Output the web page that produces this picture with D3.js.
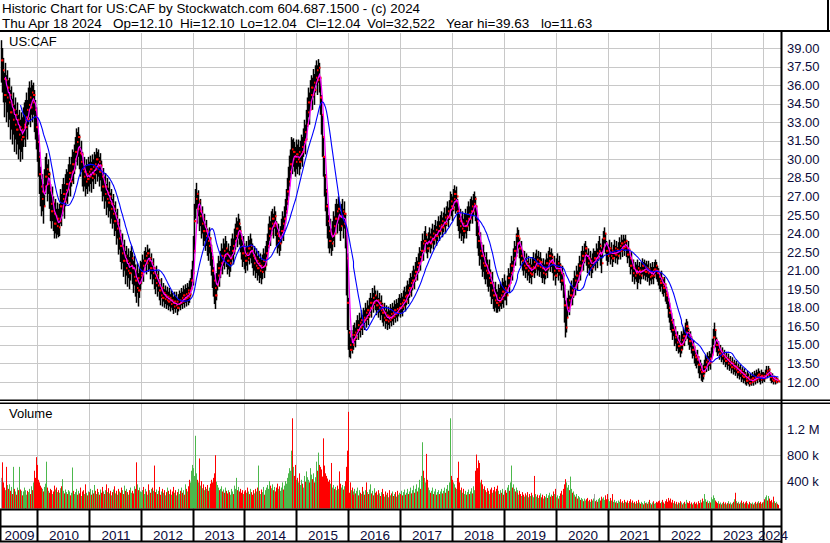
<!DOCTYPE html>
<html><head><meta charset="utf-8">
<script src="https://cdn.jsdelivr.net/npm/d3@7"></script>
<style>
body{margin:0;background:#fff}
svg{display:block}
text{font-family:"Liberation Sans",Arial,sans-serif}
</style>
</head><body>
<svg id="c" width="830" height="543"></svg>
<script>
// ---------- DATA (weekly bars) ----------
const years = [2009,2010,2011,2012,2013,2014,2015,2016,2017,2018,2019,2020,2021,2022,2023,2024];
const yearLabels = ["2009","2010","2011","2012","2013","2014","2015","2016","2017","2018","2019","2020","2021","2022","2023","2024"];

const closes = [
[38.0,37.2,36.5,35.2,36.4,35.0,35.8,34.6,35.2,33.8,34.4,33.2,34.0,32.8,33.6,32.4,33.2,32.0,32.6,31.6,32.4,31.8,32.8,33.2,32.6,33.4,34.0,33.2,34.4,35.0,34.2,35.4,34.6,35.2,34.0,33.4,32.6],
[31.4,30.2,28.8,27.8,26.8,27.4,26.2,27.8,28.6,29.2,28.0,28.8,27.5,26.4,25.8,26.5,25.6,24.8,25.4,24.6,25.2,24.5,25.0,26.2,25.8,26.8,27.2,26.6,27.5,28.0,27.6,28.4,28.9,28.2,29.0,29.6,29.2,30.0,30.6,31.4,30.8,31.8,30.5,29.8,30.4,29.2,28.6,29.0,28.2,28.8,28.4,29.0],
[28.6,29.2,28.5,29.4,28.8,29.6,29.2,30.0,29.4,29.8,29.0,29.5,28.6,27.8,28.2,27.2,27.8,26.8,27.3,26.5,27.0,26.0,26.4,25.6,26.0,25.0,25.4,24.4,24.8,23.6,23.9,23.0,22.4,22.8,21.8,22.2,21.2,21.8,21.0,21.6,20.8,21.4,22.0,21.2,20.5,21.0,20.2,19.6,20.4,19.4,20.0,20.6],
[20.8,21.4,21.0,21.8,22.2,21.6,22.4,21.8,22.0,21.2,21.6,20.8,21.2,20.4,20.0,20.6,19.8,20.2,19.4,19.0,19.6,18.8,19.2,18.7,19.0,18.6,18.9,18.5,18.8,18.3,18.6,18.4,18.1,18.5,18.2,18.5,18.0,18.3,18.6,18.4,18.8,18.5,19.0,18.7,19.1,18.8,19.2,18.9,19.4,19.1,19.6,20.2,20.8],
[22.6,25.0,26.8,27.2,26.0,26.6,25.4,25.8,24.8,25.2,24.2,24.6,23.8,24.2,23.4,23.0,23.6,22.6,22.0,21.0,20.2,19.6,19.0,19.8,20.6,21.2,20.8,21.6,22.2,21.8,22.6,22.2,22.8,22.4,21.8,22.2,21.6,22.0,22.6,23.0,22.6,23.4,23.8,24.4,24.0,24.8,24.2,23.6,23.0,22.4,22.8,22.2],
[21.8,22.4,22.0,22.8,22.5,23.0,22.6,22.2,21.6,22.0,21.4,21.8,21.2,21.6,21.0,21.4,20.9,21.3,21.8,21.4,22.0,22.4,23.0,23.8,24.4,24.0,24.8,25.2,24.6,25.4,24.8,24.0,23.4,23.8,23.2,23.6,24.2,24.8,24.4,25.2,25.8,26.6,27.4,28.2,29.0,29.6,30.8,30.0,30.6,30.2,29.8,30.4],
[30.0,30.6,29.8,30.4,31.0,30.6,31.4,32.2,31.6,32.8,33.8,34.6,34.0,35.2,35.8,35.2,36.2,35.6,36.6,37.2,36.4,37.4,36.6,35.0,33.6,31.8,30.2,28.6,27.4,26.2,25.0,24.2,23.4,24.0,23.2,23.8,24.6,24.0,25.2,25.8,25.2,26.0,25.4,24.6,25.4,25.8,24.8,25.6,24.2,22.0,18.4,16.0],
[15.0,14.6,15.4,15.0,15.8,15.4,16.0,15.6,16.2,16.6,16.2,16.8,16.4,17.0,16.6,17.2,17.0,17.6,17.2,17.8,17.4,18.0,18.4,18.0,18.8,18.4,19.0,18.6,18.2,18.6,18.0,18.4,17.8,18.2,17.6,17.2,17.6,17.0,17.4,16.9,17.3,17.0,17.5,17.2,17.6,17.3,17.8,17.5,17.9,17.6,18.0,18.3],
[18.0,18.4,18.1,18.6,18.9,18.5,19.0,19.4,19.1,19.6,20.0,19.7,20.2,20.6,20.3,20.9,21.3,21.0,21.6,22.1,21.8,22.6,23.2,22.6,23.4,23.9,23.2,22.8,23.3,23.7,23.2,23.6,24.0,23.5,23.9,24.3,23.8,24.2,24.6,24.2,24.7,25.0,24.5,24.9,25.3,24.8,25.4,25.8,25.3,25.9,26.6,26.2],
[26.0,26.8,27.2,26.6,27.0,25.8,25.2,24.6,25.0,24.4,24.8,24.2,24.6,25.0,24.6,25.2,25.6,25.2,25.8,26.2,25.8,26.4,26.8,26.2,25.0,24.0,23.4,22.6,23.0,22.2,21.6,22.0,21.4,21.0,21.4,20.8,20.4,20.8,20.0,19.4,19.8,19.0,18.6,19.0,18.4,18.2,18.8,18.5,19.0,18.7,19.3,19.0,19.6],
[19.4,19.0,19.8,20.4,20.0,20.8,21.4,21.0,22.0,22.6,22.2,23.2,23.8,23.2,23.6,22.8,22.2,22.6,21.8,21.4,21.8,21.2,21.6,21.0,21.4,20.8,21.2,20.7,21.3,21.7,21.2,21.6,21.9,21.4,21.8,21.3,21.7,21.2,20.8,21.2,20.7,21.1,21.6,21.2,21.8,22.2,21.7,22.1,21.6,21.0,21.4,20.6],
[21.2,21.6,21.0,21.4,20.8,20.2,20.6,19.8,18.2,16.4,17.2,18.0,18.6,18.2,19.0,19.4,19.0,19.6,20.2,19.8,20.6,20.2,20.8,21.4,21.0,21.8,22.2,21.8,22.4,22.8,22.2,21.6,22.0,21.4,21.8,21.2,21.6,22.0,22.0,21.8,22.4,22.0,22.6,23.0,22.4,21.6,22.8,23.6,24.0,23.2,22.6,22.2],
[22.4,22.8,22.2,22.6,22.0,22.4,22.8,22.3,22.7,22.2,22.6,23.0,22.6,23.2,22.8,23.3,22.9,23.4,22.8,22.3,22.7,22.0,21.4,21.8,20.8,21.2,20.6,21.0,20.8,21.2,20.7,21.0,20.6,21.0,21.4,21.0,21.3,20.9,21.2,20.8,21.1,20.5,20.9,20.6,21.0,20.6,21.1,21.4,21.0,20.8,20.5,20.2],
[20.0,20.4,19.8,19.6,19.9,19.2,19.0,18.6,18.0,17.6,17.0,16.8,16.2,16.4,15.6,15.8,15.2,15.4,14.9,15.1,14.6,15.0,15.4,15.2,15.7,15.5,16.0,16.5,16.2,15.7,15.3,15.5,15.0,14.6,14.8,14.2,14.0,13.8,14.0,13.4,13.0,13.2,12.8,12.5,12.8,13.2,13.6,13.4,13.8,13.5,13.9,13.6],
[14.2,14.8,15.6,16.2,15.4,15.0,14.6,14.8,14.3,14.5,14.1,14.3,13.9,14.1,13.7,13.9,13.5,13.8,13.4,13.6,13.2,13.5,13.1,13.3,13.0,13.2,12.8,13.0,12.7,12.9,12.5,12.7,12.4,12.6,12.3,12.1,12.4,12.2,11.9,12.2,12.0,12.3,12.1,12.4,12.2,12.5,12.3,12.6,12.4,12.2,12.5,12.3],
[12.5,12.3,12.7,12.9,12.6,13.0,12.7,12.4,12.2,12.4,12.1,12.3,12.0,12.2,12.1,12.04]
];

const highs = [
[39.63,39.0,38.2,37.0,37.8,36.8,37.2,36.4,36.6,35.6,35.9,34.9,35.4,34.4,35.0,34.0,34.6,33.6,34.0,33.2,33.8,33.4,34.2,34.6,34.2,34.8,35.4,34.8,35.8,36.3,35.8,36.4,36.0,36.2,35.6,34.8,34.2],
[33.4,32.0,30.6,29.4,28.4,28.8,28.0,29.2,30.2,30.5,29.6,30.0,29.0,28.0,27.2,27.8,27.0,26.5,26.8,26.0,26.5,26.0,26.4,27.6,27.2,28.0,28.5,28.0,28.8,29.2,29.0,29.6,30.2,29.6,30.2,30.8,30.6,31.2,31.8,32.5,32.2,32.6,32.0,31.0,31.5,30.6,29.8,30.2,29.5,30.0,29.6,30.2],
[29.8,30.3,29.8,30.4,30.0,30.6,30.4,30.9,30.6,30.8,30.2,30.5,29.9,29.0,29.3,28.6,28.9,28.0,28.5,27.7,28.2,27.3,27.6,26.8,27.2,26.3,26.6,25.7,26.0,24.9,25.2,24.3,23.7,24.0,23.1,23.5,22.6,23.0,22.3,22.8,22.1,22.6,23.0,22.5,21.8,22.2,21.5,21.0,21.6,20.8,21.2,21.8],
[21.7,22.3,21.9,22.6,22.9,22.5,23.1,22.7,22.8,22.1,22.4,21.7,22.0,21.3,20.9,21.4,20.7,21.0,20.3,19.9,20.4,19.7,20.0,19.5,19.8,19.4,19.7,19.3,19.6,19.1,19.4,19.2,18.9,19.3,19.0,19.3,18.8,19.1,19.4,19.2,19.6,19.3,19.8,19.5,19.9,19.6,20.0,19.7,20.2,19.9,20.4,21.1,21.8],
[23.8,26.4,27.6,28.1,27.3,27.5,26.5,26.8,25.9,26.2,25.2,25.6,24.8,25.1,24.4,24.0,24.5,23.7,23.1,22.2,21.3,20.7,20.2,20.8,21.6,22.2,21.8,22.6,23.2,22.8,23.6,23.2,23.8,23.4,22.8,23.2,22.6,23.0,23.6,24.0,23.6,24.4,24.8,25.3,25.0,25.6,25.2,24.6,24.0,23.4,23.8,23.2],
[22.8,23.4,23.0,23.8,23.5,24.0,23.6,23.2,22.6,23.0,22.4,22.8,22.2,22.6,22.0,22.4,21.9,22.3,22.8,22.4,23.0,23.4,24.0,24.8,25.4,25.0,25.8,26.0,25.6,26.2,25.8,25.0,24.4,24.8,24.2,24.6,25.2,25.8,25.4,26.2,26.8,27.6,28.5,29.4,30.3,30.8,31.8,31.6,31.7,31.4,31.0,31.6],
[31.2,31.6,31.0,31.5,32.0,31.8,32.5,33.2,32.8,34.0,35.0,35.8,35.4,36.4,36.8,36.6,37.3,36.9,37.6,38.0,37.6,38.1,37.8,36.6,35.2,33.6,31.8,30.2,28.8,27.6,26.4,25.5,24.6,25.2,24.4,25.0,25.8,25.4,26.4,26.8,26.4,27.0,26.6,25.8,26.4,26.8,26.0,26.6,25.6,24.4,22.4,18.8],
[16.2,15.6,16.2,15.9,16.6,16.2,16.8,16.4,17.0,17.4,17.0,17.6,17.2,17.8,17.4,18.0,17.8,18.4,18.0,18.6,18.2,18.8,19.2,18.8,19.6,19.2,19.8,19.4,19.0,19.4,18.8,19.2,18.6,19.0,18.4,18.0,18.4,17.8,18.2,17.7,18.1,17.8,18.3,18.0,18.4,18.1,18.6,18.3,18.7,18.4,18.8,19.1],
[18.8,19.2,18.9,19.4,19.7,19.3,19.8,20.2,19.9,20.4,20.8,20.5,21.0,21.4,21.1,21.7,22.1,21.8,22.4,22.9,22.6,23.4,24.0,23.5,24.2,24.6,24.0,23.6,24.1,24.5,24.0,24.4,24.8,24.3,24.7,25.1,24.6,25.0,25.4,25.0,25.5,25.8,25.3,25.7,26.1,25.6,26.2,26.6,26.1,26.7,27.4,27.2],
[27.0,27.6,27.9,27.5,27.8,26.8,26.2,25.6,26.0,25.4,25.8,25.2,25.6,26.0,25.6,26.2,26.6,26.2,26.8,27.0,26.7,27.2,27.4,27.0,26.2,25.2,24.6,23.8,24.1,23.3,22.7,23.1,22.5,22.1,22.5,21.9,21.5,21.9,21.1,20.5,20.9,20.1,19.7,20.1,19.5,19.3,19.9,19.6,20.1,19.8,20.4,20.1,20.7],
[20.2,19.8,20.6,21.2,20.8,21.6,22.2,21.8,22.8,23.4,23.0,24.0,24.5,24.0,24.3,23.6,23.0,23.4,22.6,22.2,22.6,22.0,22.4,21.8,22.2,21.6,22.0,21.5,22.1,22.5,22.0,22.4,22.7,22.2,22.6,22.1,22.5,22.0,21.6,22.0,21.5,21.9,22.4,22.0,22.6,22.9,22.5,22.8,22.4,21.8,22.2,21.4],
[22.0,22.4,21.8,22.2,21.6,21.0,21.4,20.8,19.8,18.6,18.2,18.8,19.4,19.0,19.8,20.2,19.8,20.4,21.0,20.6,21.4,21.0,21.6,22.2,21.8,22.6,23.0,22.6,23.2,23.4,23.0,22.4,22.8,22.2,22.6,22.0,22.4,22.8,22.6,22.6,23.2,22.8,23.4,23.8,23.2,22.8,23.6,24.2,24.5,24.0,23.4,23.0],
[23.1,23.5,22.9,23.3,22.7,23.1,23.5,23.0,23.4,22.9,23.3,23.7,23.3,23.9,23.5,23.9,23.6,23.9,23.5,23.0,23.4,22.7,22.1,22.5,21.6,21.9,21.3,21.7,21.5,21.9,21.4,21.7,21.3,21.7,22.0,21.7,21.9,21.6,21.8,21.5,21.8,21.2,21.6,21.3,21.7,21.3,21.7,21.9,21.7,21.4,21.2,20.9],
[20.8,21.0,20.5,20.3,20.5,19.9,19.7,19.3,18.8,18.4,17.8,17.6,17.0,17.1,16.4,16.5,16.0,16.1,15.6,15.8,15.3,15.7,16.1,15.9,16.4,16.2,16.8,17.1,16.9,16.4,16.0,16.1,15.7,15.3,15.4,14.9,14.6,14.4,14.6,14.1,13.7,13.8,13.5,13.1,13.4,13.8,14.2,14.0,14.4,14.1,14.5,14.3],
[14.8,15.5,16.3,16.8,16.2,15.6,15.2,15.3,14.9,15.0,14.6,14.8,14.4,14.6,14.2,14.4,14.0,14.3,13.9,14.1,13.7,14.0,13.6,13.8,13.5,13.7,13.3,13.5,13.2,13.4,13.0,13.2,12.9,13.1,12.8,12.6,12.9,12.7,12.4,12.7,12.5,12.8,12.6,12.9,12.7,13.0,12.8,13.1,12.9,12.7,13.0,12.8],
[12.8,12.7,13.0,13.3,13.0,13.3,13.1,12.8,12.5,12.7,12.4,12.5,12.3,12.4,12.3,12.10]
];

const lows = [
[36.2,35.4,34.6,33.4,34.6,33.0,33.8,32.6,33.2,31.6,32.4,31.2,32.0,30.6,31.6,30.4,31.2,30.0,30.8,29.8,30.6,30.0,31.0,31.6,31.0,31.8,32.4,31.6,32.8,33.4,32.6,33.6,33.0,33.6,32.2,31.6,30.8],
[29.8,28.6,27.2,26.2,25.4,25.8,24.8,26.2,27.2,27.8,26.6,27.2,26.0,25.0,24.4,25.0,24.2,23.6,24.0,23.6,23.9,23.7,23.8,24.8,24.6,25.4,25.8,25.2,26.2,26.6,26.4,27.0,27.6,27.0,27.8,28.2,28.0,28.8,29.2,29.8,29.5,30.2,29.2,28.6,29.0,27.8,27.4,27.8,27.0,27.6,27.2,27.8],
[27.4,28.0,27.3,28.2,27.6,28.4,28.0,28.8,28.2,28.6,27.8,28.3,27.4,26.6,27.0,26.0,26.6,25.5,26.1,25.3,25.8,24.8,25.2,24.4,24.8,23.8,24.2,23.1,23.6,22.3,22.7,21.7,21.1,21.6,20.5,21.0,19.9,20.6,19.7,20.4,19.5,20.2,20.8,19.9,19.2,19.8,18.9,18.4,19.2,18.1,18.8,19.4],
[19.9,20.5,20.1,20.9,21.3,20.7,21.5,20.9,21.1,20.3,20.7,19.9,20.3,19.5,19.1,19.7,18.9,19.3,18.6,18.2,18.8,18.1,18.5,18.0,18.3,17.9,18.2,17.8,18.1,17.7,18.0,17.8,17.5,17.9,17.6,17.9,17.4,17.7,18.0,17.8,18.2,17.9,18.3,18.0,18.4,18.1,18.5,18.2,18.7,18.4,18.9,19.4,20.0],
[19.8,22.4,25.2,26.0,24.8,25.4,24.2,24.6,23.6,24.0,23.0,23.4,22.6,23.0,22.2,21.8,22.4,21.4,20.6,19.6,18.9,18.3,17.9,18.6,19.4,20.0,19.7,20.4,21.0,20.7,21.4,21.1,21.7,21.3,20.7,21.1,20.5,20.9,21.5,21.9,21.5,22.3,22.7,23.3,22.9,23.6,23.1,22.5,21.9,21.3,21.7,21.1],
[20.8,21.4,21.0,21.8,21.5,22.0,21.6,21.2,20.6,21.0,20.4,20.8,20.2,20.6,20.0,20.4,19.9,20.3,20.8,20.4,21.0,21.4,22.0,22.8,23.4,23.0,23.8,24.2,23.6,24.4,23.8,23.0,22.4,22.8,22.2,22.6,23.2,23.8,23.4,24.2,24.8,25.6,26.3,27.0,27.8,28.4,29.2,28.8,29.4,29.0,28.6,29.2],
[28.8,29.4,28.7,29.2,29.8,29.4,30.2,31.0,30.4,31.6,32.6,33.4,32.8,34.0,34.6,34.0,35.0,34.4,35.4,36.0,35.2,36.2,35.4,33.6,32.0,30.2,28.6,27.0,25.8,24.6,23.6,22.8,22.4,22.8,22.2,22.6,23.4,22.9,24.0,24.6,24.0,24.8,24.2,23.4,24.2,24.6,23.6,24.4,22.8,19.0,16.2,14.6],
[14.0,13.9,14.5,14.3,15.0,14.6,15.2,14.8,15.4,15.8,15.4,16.0,15.6,16.2,15.8,16.4,16.2,16.8,16.4,17.0,16.6,17.2,17.6,17.2,18.0,17.6,18.2,17.8,17.4,17.8,17.2,17.6,17.0,17.4,16.8,16.5,16.9,16.3,16.7,16.2,16.6,16.3,16.8,16.5,16.9,16.6,17.1,16.8,17.2,16.9,17.3,17.6],
[17.2,17.6,17.3,17.8,18.1,17.7,18.2,18.6,18.3,18.8,19.2,18.9,19.4,19.8,19.5,20.1,20.5,20.2,20.8,21.3,21.0,21.8,22.4,21.8,22.6,23.1,22.4,22.0,22.5,22.9,22.4,22.8,23.2,22.7,23.1,23.5,23.0,23.4,23.8,23.4,23.9,24.2,23.7,24.1,24.5,24.0,24.6,25.0,24.5,25.1,25.8,25.4],
[25.0,25.8,26.2,25.6,25.8,24.6,24.2,23.6,24.0,23.4,23.8,23.2,23.6,24.0,23.6,24.2,24.6,24.2,24.8,25.2,24.8,25.4,25.8,25.0,23.8,22.8,22.2,21.4,21.9,21.1,20.5,20.9,20.3,19.9,20.3,19.7,19.3,19.7,18.9,18.3,18.7,17.9,17.7,18.0,17.6,17.6,17.9,17.7,18.1,17.9,18.3,18.0,18.6],
[18.6,18.2,19.0,19.6,19.2,20.0,20.6,20.2,21.2,21.8,21.4,22.4,23.0,22.4,22.8,22.0,21.4,21.8,21.0,20.6,21.0,20.4,20.8,20.2,20.6,20.0,20.4,19.9,20.5,20.9,20.4,20.8,21.1,20.6,21.0,20.5,20.9,20.4,20.0,20.4,19.9,20.3,20.8,20.4,21.0,21.4,20.9,21.3,20.8,20.2,20.6,19.8],
[20.4,20.8,20.2,20.6,20.0,19.4,19.8,18.8,16.8,15.6,16.0,17.2,17.8,17.4,18.2,18.6,18.2,18.8,19.4,19.0,19.8,19.4,20.0,20.6,20.2,21.0,21.4,21.0,21.6,22.0,21.4,20.8,21.2,20.6,21.0,20.4,20.8,21.2,21.4,21.0,21.6,21.2,21.8,22.2,21.4,20.8,22.0,22.8,23.2,22.4,21.8,21.4],
[21.7,22.1,21.5,21.9,21.3,21.7,22.1,21.6,22.0,21.5,21.9,22.3,21.9,22.5,22.1,22.6,22.2,22.7,22.1,21.6,22.0,21.3,20.7,21.1,20.1,20.5,19.9,20.3,20.1,19.5,20.0,20.3,19.9,20.3,20.7,20.3,20.6,20.2,20.5,20.1,20.4,19.8,20.2,19.9,20.3,19.9,20.4,20.7,20.3,20.1,19.8,19.5],
[19.3,19.7,19.1,18.9,19.2,18.5,18.3,17.9,17.2,16.8,16.2,16.0,15.4,15.7,14.9,15.1,14.5,14.7,14.3,14.4,14.0,14.3,14.7,14.6,15.0,14.9,15.3,15.8,15.5,15.0,14.6,14.8,14.3,13.9,14.1,13.5,13.3,13.1,13.4,12.7,12.3,12.6,12.1,12.0,12.2,12.6,13.0,12.8,13.2,12.9,13.3,13.0],
[13.8,14.2,15.0,15.6,14.8,14.4,14.1,14.3,13.8,14.0,13.6,13.8,13.4,13.6,13.2,13.4,13.0,13.3,12.9,13.1,12.7,13.0,12.6,12.8,12.5,12.7,12.3,12.5,12.2,12.4,12.0,12.2,11.9,12.1,11.8,11.7,11.9,11.8,11.63,11.8,11.7,11.9,11.7,12.0,11.8,12.1,11.9,12.2,12.0,11.8,12.1,11.9],
[12.1,12.0,12.3,12.5,12.3,12.6,12.4,12.1,11.9,12.0,11.8,12.0,11.8,11.9,11.9,12.04]
];

// weekly volume, thousands of shares
const volumes = [
[450,690,380,300,260,620,340,280,350,250,310,200,620,280,240,190,300,260,620,270,250,180,240,300,210,260,190,250,230,280,200,320,260,380,560,450,770],
[650,420,380,330,300,280,240,310,360,700,300,250,220,280,260,200,240,330,270,300,230,260,220,290,320,430,250,210,270,230,200,260,240,180,220,610,250,200,230,280,190,250,210,300,170,240,260,200,350,220,180,240],
[230,280,190,260,210,340,250,200,280,230,190,270,220,310,240,200,260,350,230,290,210,250,180,230,270,320,210,250,190,280,240,220,300,260,200,330,250,280,230,190,260,300,220,250,210,320,280,690,350,260,300,240],
[230,260,310,200,280,240,190,350,260,220,280,300,250,640,230,270,200,250,310,190,240,280,220,260,180,230,300,250,200,270,190,240,310,220,260,180,230,280,200,250,300,220,260,190,350,280,240,320,260,420,380,560,650],
[600,480,1100,520,420,380,750,330,400,290,350,260,310,280,340,250,300,360,420,380,450,520,800,390,340,300,260,280,320,240,270,220,300,250,210,260,230,190,280,240,200,330,280,450,260,310,240,280,220,260,200,240],
[260,220,300,240,200,280,230,190,260,210,280,240,300,640,250,200,270,230,310,190,260,300,340,280,400,330,290,350,260,310,240,300,360,280,320,250,300,380,270,330,400,360,450,520,600,560,870,1370,620,480,650,420],
[450,380,520,340,420,360,300,480,390,550,460,420,380,600,500,430,520,380,460,700,560,840,650,620,580,470,1060,640,520,480,440,390,420,360,680,300,340,280,310,260,330,280,550,360,300,340,270,320,400,620,870,1470],
[220,380,260,300,240,190,280,210,250,300,180,260,220,200,310,240,190,260,380,230,200,270,350,210,250,180,290,220,240,190,260,210,170,230,280,200,160,240,190,220,150,260,180,210,240,170,200,230,160,250,190,220],
[200,250,180,230,270,190,220,280,200,240,300,210,260,330,220,280,350,240,300,420,280,480,1000,560,450,380,820,420,300,260,220,250,300,200,240,280,190,230,260,200,240,280,210,250,300,220,280,340,250,380,1370,480],
[420,380,350,300,280,450,700,380,260,300,220,280,200,250,190,230,270,200,240,290,210,320,260,560,810,600,720,680,380,420,350,280,320,260,230,290,250,200,270,300,220,260,310,240,280,330,250,200,260,220,280,190,240],
[260,220,300,340,250,380,640,300,350,280,240,300,260,220,190,250,200,170,230,190,160,210,180,230,150,200,170,220,180,150,480,200,160,190,140,180,210,150,190,130,170,150,200,140,180,220,160,190,170,240,200,280],
[150,180,130,170,210,250,190,280,350,430,380,300,340,260,470,280,220,240,190,160,200,130,170,150,110,140,120,90,130,100,120,140,90,110,80,120,100,130,200,90,110,80,120,140,100,160,130,150,110,180,120,200],
[120,90,140,100,200,80,110,70,90,60,100,80,120,70,90,60,110,80,70,100,60,90,120,70,100,60,80,50,90,60,110,70,50,80,60,40,90,60,70,50,80,110,60,40,70,90,50,60,80,70,90,100],
[60,80,110,70,50,90,120,80,140,100,130,70,110,60,90,50,80,40,70,60,90,50,70,40,60,80,50,110,70,60,90,50,70,40,60,80,50,70,40,90,60,110,70,130,90,200,120,80,100,60,90,70],
[150,120,180,140,100,80,60,90,50,70,40,60,80,50,70,40,60,90,50,70,40,60,80,120,220,90,60,80,50,70,100,60,80,50,70,90,60,40,80,60,50,70,40,60,80,50,70,90,60,80,50,70],
[80,120,150,180,100,170,130,90,110,70,160,90,60,80,50,33]
];

const priceTicks = [12.00,13.50,15.00,16.50,18.00,19.50,21.00,22.50,24.00,25.50,27.00,28.50,30.00,31.50,33.00,34.50,36.00,37.50,39.00];
const volumeTicks = [400000,800000,1200000];
const volumeTickLabels = ["400 k","800 k","1.2 M"];
const maShort = 5, maLong = 20;

// ---------- BUILD ----------
const rows = [];
years.forEach((yr, k) => {
  const first = k === 0 ? new Date(2009, 3, 20) : d3.timeMonday.ceil(new Date(yr, 0, 1));
  closes[k].forEach((c, j) => {
    rows.push({date: d3.timeDay.offset(first, 7 * j), close: c, high: highs[k][j], low: lows[k][j], vol: volumes[k][j] * 1000});
  });
});
rows.forEach((r, i) => { r.prev = i > 0 ? rows[i - 1].close : r.close; });
function sma(n) {
  return rows.map((r, i) => i < n - 1 ? null : d3.mean(rows.slice(i - n + 1, i + 1), d => d.close));
}
const maS = sma(maShort), maL = sma(maLong);

const svg = d3.select("#c");
const W = 830, H = 543;
const plotR = 781;
const x = d3.scaleTime().domain([new Date(2010,0,1), new Date(2024,0,1)]).range([37, 763]);
const y = d3.scaleLinear().domain([12, 39]).range([382, 48]);
const yv = d3.scaleLinear().domain([0, 1200000]).range([507, 429.3]);
const px = d => Math.round(x(d));

svg.append("rect").attr("width", W).attr("height", H).attr("fill", "#fff");

const defs = svg.append("defs");
defs.append("clipPath").attr("id", "cp").append("rect").attr("x", 0).attr("y", 33).attr("width", plotR).attr("height", 366);
defs.append("clipPath").attr("id", "cv").append("rect").attr("x", 0).attr("y", 404).attr("width", plotR).attr("height", 105);

const grid = "#c8c8c8";
const yearStarts = years.slice(1).map(yr => new Date(yr, 0, 1));

// price grid
const gP = svg.append("g");
gP.selectAll("line.h").data(priceTicks).join("line")
  .attr("x1", 0).attr("x2", plotR).attr("y1", d => Math.round(y(d)) + 0.5).attr("y2", d => Math.round(y(d)) + 0.5)
  .attr("stroke", grid).attr("stroke-width", 1);
gP.selectAll("line.v").data(yearStarts).join("line")
  .attr("x1", d => px(d) + 0.5).attr("x2", d => px(d) + 0.5).attr("y1", 33).attr("y2", 400)
  .attr("stroke", grid).attr("stroke-width", 1);

// volume grid
const gV = svg.append("g");
gV.selectAll("line.h").data(volumeTicks).join("line")
  .attr("x1", 0).attr("x2", plotR).attr("y1", d => Math.round(yv(d)) + 0.5).attr("y2", d => Math.round(yv(d)) + 0.5)
  .attr("stroke", grid);
gV.selectAll("line.v").data(yearStarts).join("line")
  .attr("x1", d => px(d) + 0.5).attr("x2", d => px(d) + 0.5).attr("y1", 403).attr("y2", 509)
  .attr("stroke", grid);

// price bars
const bars = svg.append("g").attr("clip-path", "url(#cp)");
bars.selectAll("rect.b").data(rows).join("rect")
  .attr("x", d => px(d.date) - 0.25).attr("width", 1.5)
  .attr("y", d => y(d.high)).attr("height", d => Math.max(1, y(d.low) - y(d.high)))
  .attr("fill", "#000");
// red open (left) and close (right) ticks
bars.selectAll("rect.o").data(rows.filter((d, i) => i % 3 === 1)).join("rect")
  .attr("x", d => px(d.date) - 1).attr("width", 1.5)
  .attr("y", d => y(d.prev) - 1).attr("height", 2)
  .attr("fill", "#ff0000");
bars.selectAll("rect.t").data(rows).join("rect")
  .attr("x", d => px(d.date) + 1).attr("width", 1.5)
  .attr("y", d => y(d.close) - 1).attr("height", 2)
  .attr("fill", "#ff0000");

// moving averages
const lineFn = arr => d3.line().defined((d, i) => arr[i] != null).x(d => px(d.date) + 0.5).y((d, i) => y(arr[i]));
bars.append("path").datum(rows).attr("d", lineFn(maS)).attr("fill", "none").attr("stroke", "#ff00ff").attr("stroke-width", 1.2);
bars.append("path").datum(rows).attr("d", lineFn(maL)).attr("fill", "none").attr("stroke", "#0000ff").attr("stroke-width", 1.1);

// volume bars
const vb = svg.append("g").attr("clip-path", "url(#cv)");
vb.selectAll("rect").data(rows).join("rect")
  .attr("x", d => px(d.date)).attr("width", 1)
  .attr("y", d => yv(d.vol)).attr("height", d => 508.5 - yv(d.vol))
  .attr("fill", d => d.close > d.prev ? "#4cb84c" : (d.close < d.prev ? "#ff0000" : "#a0a0a0"));

// frame lines
const blk = (x0, y0, w, h) => svg.append("rect").attr("x", x0).attr("y", y0).attr("width", w).attr("height", h).attr("fill", "#000");
blk(0, 30, W, 2);
blk(827, 0, 2, 31);
blk(780.5, 31, 2, H - 31);
blk(0, 399.5, W, 1.5);
blk(0, 402.5, W, 1.5);
blk(0, 508.5, 782, 2);
blk(0, 525.5, 782, 2);
blk(0, 540.5, 782, 2);
blk(0, 509, 1.5, 33);
svg.selectAll("rect.yt").data(yearStarts).join("rect")
  .attr("x", d => px(d) - 0.5).attr("y", 509).attr("width", 2).attr("height", 33).attr("fill", "#000");

// header
const hdr = svg.append("g").attr("font-size", "13.5px").attr("fill", "#000");
hdr.append("text").attr("x", 2).attr("y", 13).attr("textLength", 418).attr("lengthAdjust", "spacingAndGlyphs")
  .text("Historic Chart for US:CAF by Stockwatch.com 604.687.1500 - (c) 2024");
const seg = [["Thu Apr 18 2024", 2], ["Op=12.10", 113], ["Hi=12.10", 180], ["Lo=12.04", 240], ["Cl=12.04", 306], ["Vol=32,522", 367], ["Year hi=39.63", 446], ["lo=11.63", 541]];
hdr.selectAll("text.s").data(seg).join("text").attr("x", d => d[1]).attr("y", 28).text(d => d[0]);

// panel labels
svg.append("text").attr("x", 9).attr("y", 46).attr("font-size", "13px").attr("fill", "#000").text("US:CAF");
svg.append("text").attr("x", 9).attr("y", 418).attr("font-size", "13px").attr("fill", "#000").text("Volume");

// right axis labels
const axCol = "#0b0b3b";
svg.selectAll("text.pt").data(priceTicks).join("text")
  .attr("x", 787).attr("y", d => y(d) + 4.6).attr("font-size", "13px").attr("fill", axCol)
  .text(d => d3.format(".2f")(d));
svg.selectAll("text.vt").data(volumeTicks).join("text")
  .attr("x", 787).attr("y", d => yv(d) + 4.6).attr("font-size", "13px").attr("fill", axCol)
  .text((d, i) => volumeTickLabels[i]);

// year labels
const bounds = [0, ...yearStarts.map(px), plotR];
svg.selectAll("text.yl").data(yearLabels).join("text")
  .attr("x", (d, i) => (bounds[i] + bounds[i + 1]) / 2 + 1).attr("y", 539.5)
  .attr("text-anchor", "middle").attr("font-size", "13.5px").attr("fill", axCol)
  .text(d => d);
</script>
</body></html>
